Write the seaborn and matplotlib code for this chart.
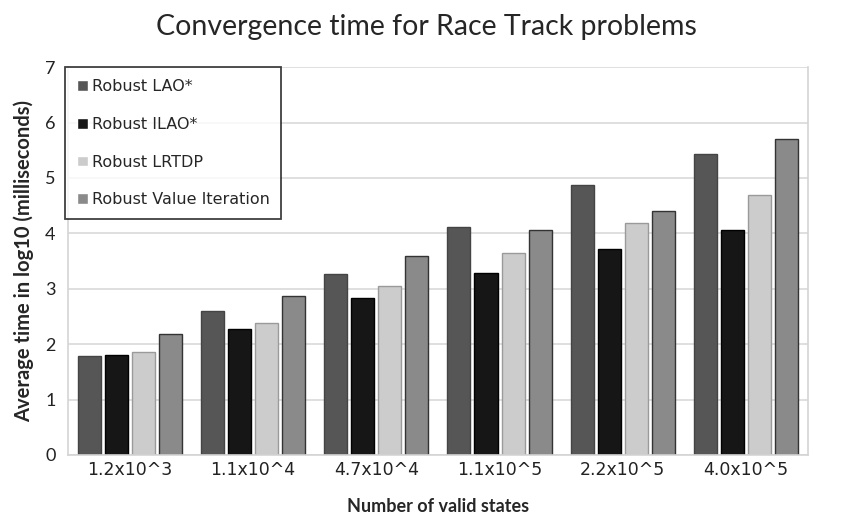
import pandas as pd
import matplotlib.pyplot as plt
import seaborn as sns

# Values (log10 ms)
states = ["1.2x10^3", "1.1x10^4", "4.7x10^4", "1.1x10^5", "2.2x10^5", "4.0x10^5"]
algorithms = ["Robust LAO*", "Robust ILAO*", "Robust LRTDP", "Robust Value Iteration"]
lao = [1.78, 2.60, 3.27, 4.12, 4.87, 5.44]
ilao = [1.80, 2.28, 2.83, 3.29, 3.72, 4.07]
lrtdp = [1.85, 2.38, 3.05, 3.64, 4.18, 4.69]
value_iter = [2.18, 2.87, 3.60, 4.06, 4.40, 5.71]

colors = ["#565656", "#161616", "#cccccc", "#8a8a8a"]
edges = ["#444444", "#000000", "#9a9a9a", "#333333"]

data = pd.DataFrame({
    "states": states * 4,
    "algorithm": [a for a in algorithms for _ in states],
    "time": lao + ilao + lrtdp + value_iter,
})

sns.set_style("white")
plt.rcParams["font.family"] = ["Lato", "DejaVu Sans"]

fig = plt.figure(figsize=(8.52, 5.17), dpi=100)
ax = fig.add_axes([0.080, 0.120, 0.868, 0.750])

sns.barplot(data=data, x="states", y="time", hue="algorithm", order=states,
            hue_order=algorithms, palette=colors, width=0.88, gap=0.15,
            saturation=1, ax=ax)

# Edge colours per series
for container, ec in zip(ax.containers, edges):
    for bar in container:
        bar.set_edgecolor(ec)
        bar.set_linewidth(1.0)

ax.set_ylim(0, 7)
ax.set_xlim(-0.5, 5.5)
ax.set_yticks(range(0, 8))
ax.yaxis.grid(True, color="#d9d9d9", linewidth=1.2)
ax.set_axisbelow(True)
for side in ["left", "bottom", "right"]:
    ax.spines[side].set_color("#d4d4d4")
    ax.spines[side].set_linewidth(1.2)
ax.spines["top"].set_visible(False)
ax.tick_params(axis="both", length=0)
ax.tick_params(axis="y", labelsize=13, colors="#222222", pad=9)
ax.tick_params(axis="x", labelsize=12.5, colors="#222222", pad=4)
for lbl in ax.get_xticklabels():
    lbl.set_family("DejaVu Sans")

ax.set_xlabel("Number of valid states", fontsize=13, fontweight="bold", labelpad=14)
ax.set_ylabel("Average time in log10 (milliseconds)", fontsize=14.5, fontweight="bold", labelpad=8)
fig.suptitle("Convergence time for Race Track problems", fontsize=20.5, y=0.972)

leg = ax.legend(loc="upper left", bbox_to_anchor=(-0.004, 1.0),
                prop={"family": "DejaVu Sans", "size": 11.5},
                frameon=True, fancybox=False, edgecolor="#111111",
                handlelength=0.65, handleheight=0.65, handletextpad=0.25,
                labelspacing=1.42, borderpad=0.75, borderaxespad=0)
leg.get_frame().set_linewidth(1.3)

plt.savefig("out.png", dpi=100)
